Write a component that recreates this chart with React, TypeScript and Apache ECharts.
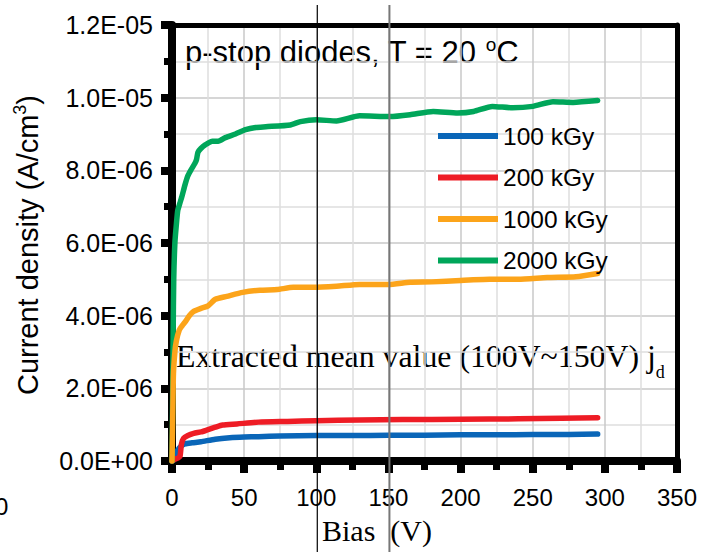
import React, { useEffect, useRef } from "react";
import * as echarts from "echarts";

// Bias (V) and current density (A/cm^3)
const bias100 = [0, 1, 2, 3, 4, 6, 9, 14, 20, 30, 40, 50, 60, 75, 100, 125, 150, 175, 200, 225, 250, 275, 295];
const j100 = [0, 0.02, 0.08, 0.2, 0.3, 0.4, 0.47, 0.5, 0.53, 0.6, 0.64, 0.66, 0.67, 0.69, 0.7, 0.7, 0.71, 0.71, 0.72, 0.72, 0.73, 0.73, 0.74];

const bias200 = [0, 2, 4, 5.5, 6.5, 8, 11, 15, 20, 24, 30, 35, 45, 60, 80, 100, 130, 160, 200, 240, 270, 295];
const j200 = [0, 0.05, 0.08, 0.12, 0.45, 0.62, 0.7, 0.76, 0.8, 0.85, 0.93, 0.99, 1.02, 1.07, 1.09, 1.11, 1.13, 1.14, 1.15, 1.16, 1.18, 1.19];

const bias1000 = [0, 0.5, 1, 2, 3, 5, 7, 9, 12, 15, 20, 25, 30, 38, 49, 61, 73, 84, 98, 114, 130, 150, 165, 180, 200, 220, 240, 260, 280, 295];
const j1000 = [0, 1.2, 2.4, 3.0, 3.3, 3.6, 3.72, 3.82, 4.0, 4.12, 4.2, 4.27, 4.45, 4.53, 4.64, 4.7, 4.72, 4.78, 4.78, 4.81, 4.86, 4.86, 4.92, 4.93, 4.97, 5.0, 5.0, 5.05, 5.07, 5.16];

const bias2000 = [0, 0.4, 0.8, 1.2, 2, 3, 4, 5.5, 7, 9, 11, 13, 16, 17, 18, 20, 23, 28, 32, 37, 44, 51, 58, 65, 82, 89, 100, 114, 130, 151, 165, 181, 198, 209, 222, 236, 250, 264, 278, 295];
const j2000 = [0, 1.5, 3.5, 5.0, 6.0, 6.5, 6.9, 7.1, 7.3, 7.6, 7.85, 8.0, 8.2, 8.3, 8.5, 8.6, 8.7, 8.8, 8.8, 8.9, 9.0, 9.12, 9.18, 9.2, 9.25, 9.34, 9.39, 9.36, 9.5, 9.48, 9.53, 9.62, 9.58, 9.62, 9.76, 9.72, 9.76, 9.89, 9.87, 9.92];

const seriesNames = ["100 kGy", "200 kGy", "1000 kGy", "2000 kGy"];
const seriesColors = ["#0a66b8", "#ee1c25", "#fca41a", "#00a65a"];
const scale = 1e-6;

const xTicks = { min: 0, max: 350, interval: 50 };
const yTicks = { min: 0, max: 1.2e-5, interval: 2e-6 };
const markedBias = [100, 150];

const pairs = (xs: number[], ys: number[]) => xs.map((x, i) => [x, ys[i] * scale]);

function sci(v: number): string {
  if (Math.abs(v) < 1e-20) return "0.0E+00";
  let e = Math.floor(Math.log10(Math.abs(v)) + 1e-9);
  let m = v / Math.pow(10, e);
  if (Math.round(m * 10) >= 100) {
    e += 1;
    m = v / Math.pow(10, e);
  }
  const sign = e < 0 ? "-" : "+";
  const ae = Math.abs(e);
  return m.toFixed(1) + "E" + sign + (ae < 10 ? "0" + ae : String(ae));
}

const SANS = "'Liberation Sans', Arial, sans-serif";
const SERIF = "'Liberation Serif', 'Times New Roman', serif";

export default function App() {
  const ref = useRef<HTMLDivElement>(null);
  useEffect(() => {
    if (!ref.current) return;
    const chart = echarts.init(ref.current, null, { renderer: "svg" });
    const data = [pairs(bias100, j100), pairs(bias200, j200), pairs(bias2000, j2000), pairs(bias1000, j1000)];
    const order = [0, 1, 3, 2];
    const series = data.map((d, k) => {
      const idx = order[k];
      return {
        type: "line",
        name: seriesNames[idx],
        data: d,
        showSymbol: false,
        symbol: "none",
        smooth: 0.2,
        clip: false,
        lineStyle: { color: seriesColors[idx], width: 5.5, cap: "round", join: "round" },
        itemStyle: { color: seriesColors[idx] },
      };
    });

    const baseGraphics: any[] = [
      {
        type: "text",
        id: "title",
        x: 185,
        y: 52,
        style: {
          text: "{a|p-stop diodes, T = 20 }{s|o}{a|C}",
          verticalAlign: "middle",
          align: "left",
          rich: {
            a: { fontSize: 31, fontFamily: SANS, fill: "#000", lineHeight: 34 },
            s: { fontSize: 19, fontFamily: SANS, fill: "#000", lineHeight: 19, verticalAlign: "top" },
          },
        },
      },
      {
        type: "text",
        id: "yname",
        x: 28,
        y: 245,
        rotation: Math.PI / 2,
        style: {
          text: "{a|Current density (A/cm}{s|3}{a|)}",
          verticalAlign: "middle",
          align: "center",
          rich: {
            a: { fontSize: 29, fontFamily: SANS, fill: "#000", lineHeight: 34 },
            s: { fontSize: 18, fontFamily: SANS, fill: "#000", lineHeight: 18, verticalAlign: "top" },
          },
        },
      },
      {
        type: "text",
        id: "note",
        x: 176,
        y: 356,
        style: {
          text: "{a|Extracted mean value (100V~150V) j}{d|d}",
          verticalAlign: "middle",
          align: "left",
          rich: {
            a: { fontSize: 31.8, fontFamily: SERIF, fill: "#000", lineHeight: 50 },
            d: { fontSize: 18, fontFamily: SERIF, fill: "#000", lineHeight: 17, verticalAlign: "bottom" },
          },
        },
      },
      {
        type: "text",
        id: "xname",
        x: 377,
        y: 530,
        style: {
          text: "Bias  (V)",
          fontSize: 30,
          fontFamily: SERIF,
          fill: "#000",
          align: "center",
          verticalAlign: "middle",
        },
      },
      {
        type: "text",
        id: "stray",
        x: -5,
        y: 506,
        style: { text: "0", fontSize: 24, fontFamily: SANS, fill: "#000", verticalAlign: "middle", align: "left" },
      },
    ];

    const option: any = {
      animation: false,
      backgroundColor: "#fff",
      grid: { left: 172, right: 24, top: 25, bottom: 91, containLabel: false },
      legend: {
        orient: "vertical",
        left: 433,
        top: 117,
        itemWidth: 60,
        itemHeight: 6,
        itemGap: 13.5,
        icon: "rect",
        data: seriesNames,
        textStyle: { fontSize: 24.5, color: "#000", fontFamily: SANS, lineHeight: 28 },
      },
      xAxis: [
        {
          type: "value",
          min: xTicks.min,
          max: xTicks.max,
          interval: xTicks.interval,
          axisLine: { show: true, lineStyle: { color: "#000", width: 8 } },
          axisTick: { show: true, inside: false, length: 12, lineStyle: { color: "#000", width: 8 } },
          minorTick: { show: true, splitNumber: 2, length: 9, lineStyle: { color: "#000", width: 7 } },
          splitLine: { show: true, lineStyle: { color: "#c8c8c8", width: 1.5 } },
          minorSplitLine: { show: true, lineStyle: { color: "#dedede", width: 1.5 } },
          axisLabel: { fontSize: 24, color: "#000", margin: 24, fontFamily: SANS },
        },
        {
          type: "value",
          position: "top",
          min: xTicks.min,
          max: xTicks.max,
          axisLine: { show: true, onZero: false, lineStyle: { color: "#000", width: 5 } },
          axisTick: { show: false },
          axisLabel: { show: false },
          splitLine: { show: false },
        },
      ],
      yAxis: [
        {
          type: "value",
          min: yTicks.min,
          max: yTicks.max,
          interval: yTicks.interval,
          axisLine: { show: true, lineStyle: { color: "#000", width: 8 } },
          axisTick: { show: true, inside: false, length: 11, lineStyle: { color: "#000", width: 8 } },
          minorTick: { show: true, splitNumber: 2, length: 8, lineStyle: { color: "#000", width: 7 } },
          splitLine: { show: true, lineStyle: { color: "#c8c8c8", width: 1.5 } },
          minorSplitLine: { show: true, lineStyle: { color: "#dedede", width: 1.5 } },
          axisLabel: { fontSize: 25, color: "#000", margin: 19, fontFamily: SANS, formatter: (v: number) => sci(v) },
        },
        {
          type: "value",
          position: "right",
          min: yTicks.min,
          max: yTicks.max,
          axisLine: { show: true, onZero: false, lineStyle: { color: "#000", width: 5 } },
          axisTick: { show: false },
          axisLabel: { show: false },
          splitLine: { show: false },
        },
      ],
      series,
      graphic: { elements: baseGraphics },
    };
    chart.setOption(option);

    const lineColors = ["#000", "#777"];
    const lineWidths = [1.2, 2];
    const vlines = markedBias.map((b, i) => {
      const px = (chart.convertToPixel({ xAxisIndex: 0 }, b) as number) + 1;
      return {
        type: "line",
        id: "vline" + i,
        z: 100,
        shape: { x1: px, y1: 5, x2: px, y2: 552 },
        style: { stroke: lineColors[i], lineWidth: lineWidths[i] },
      };
    });
    chart.setOption({ graphic: { elements: [...baseGraphics, ...vlines] } });

    return () => chart.dispose();
  }, []);
  return <div ref={ref} style={{ width: 701, height: 552, position: "absolute", left: 0, top: 0 }} />;
}
